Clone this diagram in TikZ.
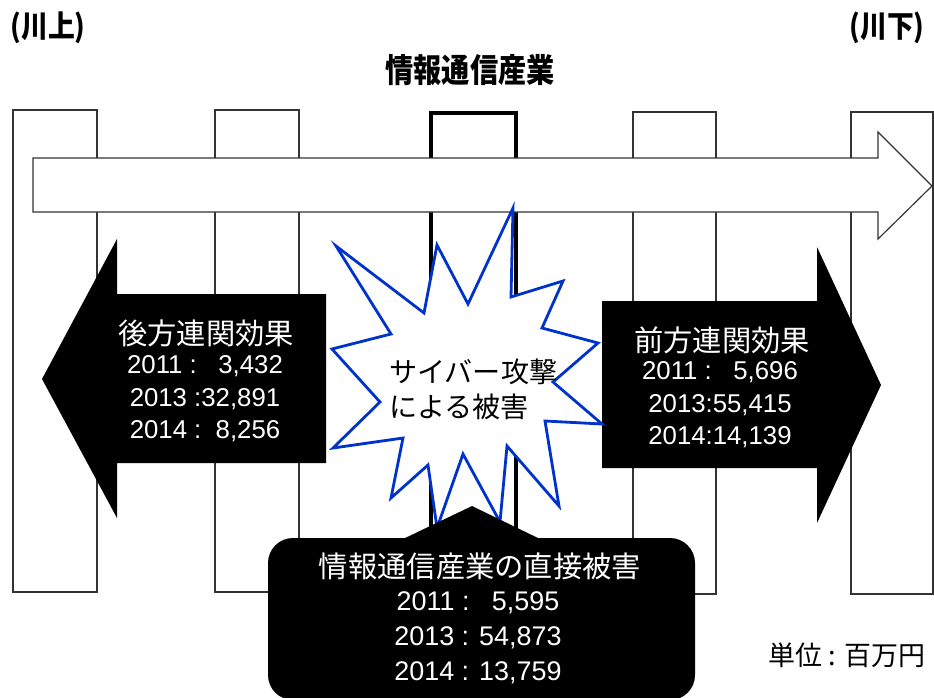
\documentclass[tikz,border=0pt]{standalone}
\usepackage{fontspec}
\setmainfont{Liberation Sans}
\newfontfamily\jp{Noto Sans CJK JP}
\usepackage{tikz}
\usetikzlibrary{positioning}

\definecolor{burstblue}{RGB}{0,51,204}
\tikzset{
  sector/.style={draw=black!80, fill=white, line width=1pt},
  mainsector/.style={draw=black, fill=white, line width=3.4pt},
  flow/.style={draw=black!80, fill=white, line width=1pt},
  effect/.style={fill=black},
  burst/.style={draw=burstblue, fill=white, line width=2.4pt, line join=miter},
  toplabel/.style={font=\jp\bfseries\fontsize{26}{30}\selectfont},
  wtitle/.style={text=white, font=\jp\fontsize{25}{30}\selectfont},
  wnum/.style={text=white, align=center, font=\fontsize{22}{27.7}\selectfont},
}

\begin{document}
\begin{tikzpicture}[x=0.03cm, y=-0.03cm]
  \useasboundingbox (0,0) rectangle (934,697);

  % industries
  \draw [sector] (13,110) rectangle (97,592);
  \draw [sector] (215,110) rectangle (299,592);
  \draw [mainsector] (431,113) rectangle (516,600);
  \draw [sector] (633,112) rectangle (716,594);
  \draw [sector] (851,112) rectangle (933,594);

  % upstream -> downstream
  \draw [flow] (33,158) -- (878,158) -- (878,132) -- (932,186) -- (878,239)
    -- (878,212) -- (33,212) -- cycle;

  % backward / forward linkage arrows
  \fill [effect] (326,294) -- (117,294) -- (117,239) -- (42,379) -- (117,518)
    -- (117,463) -- (326,463) -- cycle;
  \fill [effect] (602,301) -- (817,301) -- (817,247) -- (881,385) -- (817,523)
    -- (817,468) -- (602,468) -- cycle;

  % cyber attack
  \draw [burst] (513,208) -- (511,297) -- (563,281) -- (542,328) -- (598,343)
    -- (553,382) -- (602,424) -- (545,421) -- (559,506) -- (507,446)
    -- (500,522) -- (463,454) -- (437,528) -- (428,465) -- (391,498)
    -- (403,438) -- (333,448) -- (380,402) -- (332,349) -- (391,334)
    -- (336,246) -- (424,313) -- (437,245) -- (468,304) -- cycle;

  % direct damage callout
  \fill [effect, rounded corners=0.75cm] (268,700) -- (268,538) -- (695,538) -- (695,700) -- cycle;
  \fill [effect] (403,539) -- (472,506) -- (540,539) -- cycle;

  \node (up) [toplabel] at (48,28) {\scalebox{0.88}[1]{(川上)}};
  \node (down) [toplabel] at (887,28) {\scalebox{0.88}[1]{(川下)}};
  \node (ict) [toplabel, font=\jp\bfseries\fontsize{28}{32}\selectfont] at (470,70) {\scalebox{0.86}[1]{情報通信産業}};

  \node (backT) [wtitle] at (206,333) {後方連関効果};
  \node (backV) [wnum] at (205,399) {2011 :\ \ \ 3,432\\2013 :32,891\\2014 :\ \ 8,256};

  \node (foreT) [wtitle] at (722,340) {前方連関効果};
  \node (foreV) [wnum] at (720,405) {2011 :\ \ \ 5,696\\2013:55,415\\2014:14,139};

  \node (attack) [anchor=west, align=left, font=\jp\fontsize{24}{30}\selectfont] at (385,389) {サイバー攻撃\\による被害};

  \node (directT) [wtitle] at (480,566) {情報通信産業の直接被害};
  \node (directV) [wnum, font=\fontsize{23}{30}\selectfont] at (478,638) {2011 :\ \ \ 5,595\\2013 : 54,873\\2014 : 13,759};

  \node (unit) [font=\jp\fontsize{23}{28}\selectfont] at (847,655) {単位 : 百万円};
\end{tikzpicture}
\end{document}
